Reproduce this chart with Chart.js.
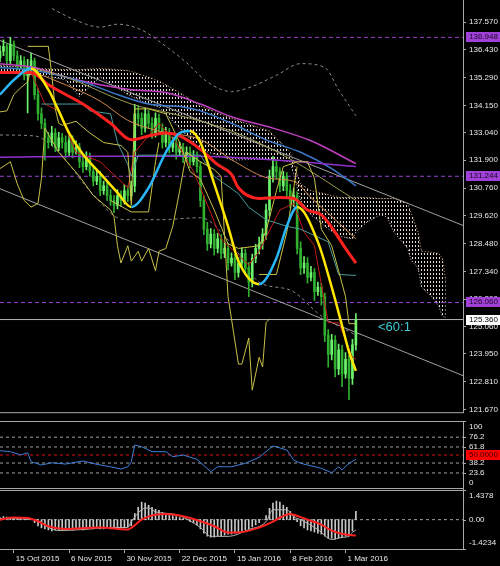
<!DOCTYPE html>
<html>
<head>
<meta charset="utf-8">
<script src="https://cdn.jsdelivr.net/npm/chart.js@4.4.0/dist/chart.umd.min.js"></script>
<style>
  html, body { margin: 0; padding: 0; background: #000; overflow: hidden; }
  #wrap { position: relative; width: 500px; height: 566px; background: #000; }
  #wrap canvas { position: absolute; left: 0; }
</style>
</head>
<body>
<div id="wrap">
  <canvas id="mainChart" width="500" height="421" style="top:0px"></canvas>
  <canvas id="rsiChart" width="500" height="68" style="top:421px"></canvas>
  <canvas id="macdChart" width="500" height="77" style="top:489px"></canvas>
</div>
<script>
// daily candles, bar index 0..103
const opens = [136.10,136.38,136.58,135.99,136.66,136.19,135.79,135.99,135.39,135.71,
  135.99,134.60,133.81,133.42,132.82,132.63,133.02,132.43,132.82,132.63,
  132.23,132.71,132.23,132.43,131.84,131.64,132.03,131.44,131.04,131.24,
  130.65,130.85,130.45,130.25,130.06,130.45,130.25,130.65,130.45,130.85,
  133.81,133.62,133.22,133.81,133.42,133.02,133.62,133.22,132.63,133.02,
  132.43,132.63,132.23,132.43,132.03,132.23,131.84,132.03,131.64,130.25,
  129.07,128.47,128.87,128.28,128.67,128.08,128.28,127.68,127.88,127.29,
  127.68,128.08,127.48,126.89,127.88,128.28,128.47,128.87,129.86,131.24,
  131.64,131.44,130.85,131.24,130.65,130.25,130.45,128.28,127.48,127.68,
  127.09,127.29,126.50,126.69,126.30,124.72,123.93,124.52,123.33,124.12,
  123.13,123.73,122.94,124.32];
const highs = [136.60,136.85,136.70,136.95,136.80,136.40,136.20,136.15,136.05,136.30,
  136.10,134.85,134.05,133.60,133.05,133.30,133.20,133.05,133.00,132.90,
  132.95,132.90,132.70,132.60,132.05,132.25,132.20,131.60,131.50,131.45,
  131.05,131.00,130.70,130.45,130.70,130.65,130.90,130.85,131.05,134.20,
  134.15,133.85,134.05,133.95,133.65,133.85,133.80,133.40,133.25,133.20,
  132.85,132.85,132.65,132.60,132.45,132.45,132.30,132.25,131.85,130.45,
  129.35,129.10,129.05,128.90,128.85,128.50,128.50,128.10,128.05,127.90,
  128.30,128.25,127.70,128.05,128.45,128.75,129.10,130.10,131.50,132.05,
  131.90,131.60,131.45,131.40,130.90,130.75,130.60,128.55,127.95,127.90,
  127.55,127.45,126.90,126.85,126.45,124.95,124.75,124.70,124.35,124.30,
  124.00,123.90,124.55,125.60];
const lows = [135.95,136.20,135.80,135.85,136.00,135.60,135.65,135.20,133.85,135.50,
  134.40,133.55,133.20,131.90,132.40,132.50,132.25,132.30,132.40,132.00,
  132.10,132.00,132.15,131.60,131.40,131.50,131.25,130.85,130.90,130.45,
  130.50,130.25,130.05,129.75,129.90,130.00,130.10,130.20,130.25,130.60,
  133.30,132.95,133.05,133.20,132.80,132.85,133.00,132.40,132.45,132.20,
  132.25,131.95,132.05,131.80,131.85,131.60,131.70,131.40,130.00,128.85,
  128.20,128.30,128.00,128.10,127.85,127.90,127.40,127.55,127.00,127.10,
  127.45,127.20,126.30,126.70,127.70,128.05,128.25,128.65,129.60,131.00,
  131.15,130.60,130.65,130.40,129.95,130.00,128.05,127.20,127.25,126.85,
  126.95,126.15,126.35,125.95,124.45,123.40,123.70,123.00,123.10,122.60,
  122.95,122.07,122.70,124.10];
const closes = [136.38,136.58,135.99,136.66,136.19,135.79,135.99,135.39,135.71,135.99,
  134.60,133.81,133.42,132.82,132.63,133.02,132.43,132.82,132.63,132.23,
  132.71,132.23,132.43,131.84,131.64,132.03,131.44,131.04,131.24,130.65,
  130.85,130.45,130.25,130.06,130.45,130.25,130.65,130.45,130.85,133.81,
  133.62,133.22,133.81,133.42,133.02,133.62,133.22,132.63,133.02,132.43,
  132.63,132.23,132.43,132.03,132.23,131.84,132.03,131.64,130.25,129.07,
  128.47,128.87,128.28,128.67,128.08,128.28,127.68,127.88,127.29,127.68,
  128.08,127.48,126.89,127.88,128.28,128.47,128.87,129.86,131.24,131.64,
  131.44,130.85,131.24,130.65,130.25,130.45,128.28,127.48,127.68,127.09,
  127.29,126.50,126.69,126.30,124.72,123.93,124.52,123.33,124.12,123.13,
  123.73,122.94,124.32,125.36];

// x axis
const dateTicks = [4, 20, 36, 52, 68, 84, 100];
const dateLabels = ['15 Oct 2015', '6 Nov 2015', '30 Nov 2015', '22 Dec 2015', '15 Jan 2016', '8 Feb 2016', '1 Mar 2016'];
const priceTicks = [137.57, 136.43, 135.29, 134.15, 133.04, 131.90, 130.76, 129.62, 128.48, 127.34, 126.20, 125.06, 123.95, 122.81, 121.67];
const levelPrices = [136.948, 131.244, 126.060];
const lastPrice = 125.36;

// moving averages (bar index / price)
const redMaX = [0, 9, 14, 24, 32, 38, 43, 48, 52, 58, 63, 67, 69, 75, 81, 85, 89, 93, 96, 100, 103];
const redMaY = [135.51, 135.51, 135.00, 134.21, 133.42, 132.74, 132.90, 133.02, 132.90, 132.35, 131.72, 131.32, 130.77, 130.33, 130.37, 130.33, 129.86, 129.66, 129.15, 128.28, 127.68];
const fastMaX = [0, 4, 9, 14, 17, 20, 24, 29, 34, 38, 43, 48, 52, 55, 58, 62, 66, 69, 75, 80, 83, 86, 92, 96, 99, 101, 103];
const fastMaY = [134.60, 135.20, 135.67, 134.80, 133.93, 133.02, 132.15, 131.36, 130.57, 129.98, 130.77, 132.23, 133.02, 133.10, 132.63, 130.93, 129.19, 127.76, 126.81, 127.88, 129.19, 129.98, 128.55, 126.69, 125.11, 124.04, 123.25];
const magentaX = [0, 10, 19, 29, 38, 48, 58, 67, 79, 90, 103];
const magentaY = [135.87, 135.71, 135.32, 135.00, 134.80, 134.68, 134.21, 133.69, 133.22, 132.70, 131.76];
const blueX = [0, 10, 24, 34, 43, 53, 58, 67, 77, 87, 96, 103];
const blueY = [135.71, 135.59, 135.12, 134.60, 134.21, 134.09, 133.93, 133.42, 132.74, 132.23, 131.56, 130.85];
const purpleX = [0, 29, 58, 75, 87, 103];
const purpleY = [132.03, 132.07, 132.07, 131.95, 131.84, 131.64];
const orangeX = [10, 19, 29, 37, 46, 58, 68, 78, 85, 90, 97, 103];
const orangeY = [135.51, 135.00, 134.33, 133.54, 133.10, 132.75, 131.84, 131.16, 131.04, 130.37, 129.46, 128.67];
const oliveX = [10, 19, 38, 50, 67, 84, 103];
const oliveY = [135.67, 135.32, 134.21, 133.81, 133.10, 131.95, 130.25];
const tealX = [12, 24, 26, 32, 34, 37, 38, 40, 58, 62, 69, 72, 77, 83, 87, 95, 98, 103];
const tealY = [134.21, 134.21, 133.93, 133.81, 132.63, 131.72, 131.24, 132.11, 132.11, 131.24, 130.53, 129.97, 129.46, 129.19, 129.07, 128.55, 127.21, 127.17];
const darkRedX = [9, 13, 17, 22, 29, 37, 39, 46, 51, 56, 61, 64, 69, 72, 75, 81, 85, 88, 91, 93, 95, 98, 102, 103];
const darkRedY = [135.51, 134.21, 133.93, 132.23, 131.84, 130.77, 132.23, 133.42, 132.63, 131.44, 129.74, 128.67, 128.00, 127.60, 128.16, 129.86, 130.13, 128.95, 128.39, 126.81, 125.23, 125.23, 123.81, 123.73];

// gold bands
const goldUpX = [8, 14, 15, 16, 17, 18, 22, 26, 30, 35, 37, 38, 39, 43, 48, 52, 55, 58, 62, 66, 69, 75, 77, 80, 82, 86, 89, 91, 93, 96, 98, 100, 101, 103];
const goldUpY = [136.58, 136.58, 135.39, 134.01, 133.42, 133.34, 133.50, 133.02, 132.63, 132.51, 132.23, 130.06, 134.01, 134.01, 133.81, 132.63, 131.44, 131.12, 129.86, 128.47, 128.28, 128.39, 128.99, 130.65, 131.64, 131.84, 131.84, 131.16, 129.07, 128.39, 127.36, 126.30, 125.19, 125.19];
const goldLeftX = [0, 2, 4, 6, 8, 9];
const goldLeftY = [133.89, 133.93, 134.60, 134.88, 135.12, 135.67];
const goldLowX = [0, 3, 5, 7, 9, 11, 12, 13, 17, 23, 27, 32, 33, 34, 35, 37, 38, 40, 41, 43, 45, 46, 48, 50, 52, 54, 58, 62, 64, 66, 67, 69, 70, 72, 73, 75, 76, 77, 78];
const goldLowY = [131.56, 131.84, 130.93, 130.25, 129.98, 130.13, 131.16, 133.22, 132.23, 131.24, 130.45, 129.86, 129.58, 128.39, 127.68, 128.39, 127.76, 128.16, 127.76, 128.28, 127.36, 128.16, 128.28, 129.19, 130.65, 132.23, 131.84, 131.52, 131.24, 126.30, 125.38, 123.53, 123.53, 124.60, 122.46, 123.81, 123.41, 125.23, 125.39];
const goldBoxAX = [32, 38, 43, 45, 46];
const goldBoxAY = [130.25, 129.78, 129.78, 131.84, 132.63];
const goldBoxBX = [75, 80, 83, 86];
const goldBoxBY = [127.21, 127.21, 128.95, 131.64];

// grey dashed envelope
const envUpX = [12, 22, 29, 34, 41, 48, 54, 60, 67, 72, 80, 87, 94, 98, 103];
const envUpY = [138.36, 137.65, 137.37, 137.49, 137.25, 136.58, 135.91, 135.12, 134.72, 134.88, 135.39, 135.87, 135.71, 134.80, 133.73];
const envLowX = [0, 10, 17, 26, 36, 46, 58, 67, 75, 84, 93, 103];
const envLowY = [132.94, 132.90, 132.23, 130.65, 129.46, 129.46, 129.54, 128.47, 126.89, 126.57, 125.51, 124.72];

// ichimoku cloud (shifted 26 bars ahead)
const cloudX = [0, 12, 19, 23, 29, 37, 43, 46, 52, 58, 67, 78, 84, 87, 90, 94, 98, 102, 103, 106, 110, 112, 114, 118, 119, 121, 122, 125, 127, 128, 129];
const spanA = [135.79, 135.67, 135.63, 135.63, 135.67, 135.59, 135.32, 135.16, 134.68, 134.13, 133.62, 133.10, 132.23, 130.93, 130.65, 130.53, 130.37, 130.37, 130.37, 130.37, 130.33, 130.33, 130.33, 130.13, 129.74, 128.95, 128.16, 128.12, 128.08, 127.88, 126.97];
const spanB = [135.51, 135.39, 135.20, 134.52, 135.32, 134.60, 134.21, 134.09, 133.22, 132.35, 131.91, 131.95, 131.84, 130.25, 129.66, 129.19, 128.79, 128.67, 128.95, 129.34, 129.66, 129.58, 128.95, 128.28, 127.80, 127.48, 126.69, 126.30, 125.90, 125.51, 125.43];

// trend channel
const chanX = [0, 134];
const chanUpY = [136.82, 129.225];
const chanLowY = [130.73, 123.056];

// RSI
const rsiX = [0, 3, 6, 8, 9, 12, 15, 19, 24, 28, 32, 35, 37, 38, 39, 41, 44, 48, 50, 53, 57, 61, 63, 67, 71, 75, 79, 83, 85, 87, 93, 96, 98, 99, 101, 103];
const rsiY = [56.3, 54.9, 50.0, 53.4, 40.1, 35.3, 38.6, 36.7, 41.2, 36.3, 32.7, 29.4, 32.7, 40.1, 64.7, 62.2, 54.9, 54.9, 47.5, 50.0, 43.7, 25.4, 32.7, 32.7, 37.8, 46.6, 63.3, 57.4, 42.6, 37.8, 30.4, 23.9, 32.7, 27.9, 37.8, 43.7];
const rsiLevels = [76.2, 61.8, 38.2, 23.6];

// MACD
const macdHist = [0.10, 0.15, 0.12, 0.10, 0.05, 0.08, 0.05, 0.02, 0.05, 0.00,
  -0.15, -0.30, -0.40, -0.45, -0.50, -0.55, -0.50, -0.50, -0.50, -0.45,
  -0.45, -0.50, -0.45, -0.45, -0.50, -0.45, -0.40, -0.45, -0.40, -0.45,
  -0.45, -0.40, -0.45, -0.40, -0.40, -0.35, -0.40, -0.35, -0.30, 0.30,
  0.60, 0.85, 0.80, 0.70, 0.60, 0.50, 0.45, 0.35, 0.30, 0.25,
  0.20, 0.15, 0.10, 0.05, 0.00, -0.10, -0.15, -0.25, -0.45, -0.65,
  -0.80, -0.85, -0.85, -0.80, -0.80, -0.75, -0.70, -0.70, -0.65, -0.60,
  -0.55, -0.50, -0.45, -0.35, -0.25, -0.15, 0.00, 0.20, 0.55, 0.80,
  0.90, 0.85, 0.70, 0.60, 0.40, 0.20, -0.10, -0.30, -0.40, -0.50,
  -0.55, -0.60, -0.65, -0.70, -0.80, -0.90, -0.90, -0.95, -0.90, -0.85,
  -0.80, -0.75, -0.55, 0.40];
const signalX = [0, 4, 8, 11, 14, 19, 29, 37, 38, 41, 45, 48, 53, 58, 62, 66, 69, 75, 79, 80, 84, 85, 89, 93, 96, 100, 103];
const signalY = [0, 0.11, 0.08, -0.08, -0.32, -0.45, -0.38, -0.48, -0.40, 0, 0.24, 0.27, 0.16, -0.08, -0.32, -0.62, -0.62, -0.38, -0.10, 0, 0.27, 0.24, 0, -0.24, -0.53, -0.72, -0.77];
const macdLineX = [0, 10, 14, 17, 24, 32, 37, 38, 41, 43, 45, 51, 58, 61, 66, 72, 77, 79, 83, 85, 87, 92, 96, 99, 101, 102, 103];
const macdLineY = [0.05, 0, -0.38, -0.53, -0.48, -0.38, -0.38, -0.10, 0.48, 0.57, 0.38, 0.24, -0.38, -0.81, -0.81, -0.48, -0.10, 0.48, 0.48, 0.14, 0, -0.48, -0.96, -0.86, -0.81, -0.62, -0.50];

const FAMILY = '"Liberation Sans", Arial, sans-serif';
const AXIS = '#a8a8a8';
const X_MAX = 134;

function pts(xs, ys) { return xs.map((x, k) => ({ x: x, y: ys[k] })); }
function flat(v) { return [{ x: 0, y: v }, { x: X_MAX, y: v }]; }

function line(data, color, width, extra) {
  return Object.assign({
    type: 'line', data: data, borderColor: color, borderWidth: width,
    pointRadius: 0, fill: false, tension: 0, order: 50
  }, extra || {});
}

const smooth = { cubicInterpolationMode: 'monotone' };

// draws the frame, right-side labels, price boxes and notes
function framePlugin(cfg) {
  return {
    id: 'frame',
    afterDraw(chart) {
      const ctx = chart.ctx;
      const a = chart.chartArea;
      const ys = chart.scales.y;
      ctx.save();
      ctx.strokeStyle = AXIS;
      ctx.lineWidth = 1;
      ctx.beginPath();
      ctx.moveTo(a.right + 0.5, 0);
      ctx.lineTo(a.right + 0.5, a.bottom);
      if (cfg.top) { ctx.moveTo(0, a.top + 0.5); ctx.lineTo(a.right, a.top + 0.5); }
      if (cfg.bottom) { ctx.moveTo(0, a.bottom - 0.5); ctx.lineTo(a.right, a.bottom - 0.5); }
      ctx.stroke();

      ctx.font = '8px ' + FAMILY;
      ctx.textBaseline = 'middle';
      ctx.textAlign = 'left';
      (cfg.labels || []).forEach(function (l) {
        let y = ys.getPixelForValue(l[0]);
        ctx.strokeStyle = AXIS;
        ctx.beginPath();
        ctx.moveTo(a.right, Math.round(y) + 0.5);
        ctx.lineTo(a.right + 3, Math.round(y) + 0.5);
        ctx.stroke();
        y = Math.min(Math.max(y, a.top + 6), a.bottom - 6);
        ctx.fillStyle = '#e8e8e8';
        ctx.fillText(l[1], a.right + 6, y);
      });

      (cfg.boxes || []).forEach(function (b) {
        const y = Math.round(ys.getPixelForValue(b.value));
        ctx.fillStyle = b.bg;
        ctx.fillRect(a.right + 3, y - 5, 37, 10);
        ctx.fillStyle = b.fg;
        ctx.fillText(b.text, a.right + 6, y);
      });

      if (cfg.note) {
        const xs = chart.scales.x;
        ctx.font = '13px ' + FAMILY;
        ctx.fillStyle = '#3cc8d2';
        ctx.fillText(cfg.note.text, xs.getPixelForValue(cfg.note.x), ys.getPixelForValue(cfg.note.y));
      }
      ctx.restore();
    }
  };
}

const baseOptions = {
  responsive: false,
  animation: false,
  devicePixelRatio: 1,
  events: [],
  layout: { padding: 0 },
  plugins: { legend: { display: false }, tooltip: { enabled: false } }
};

function hiddenX() {
  return { type: 'linear', min: 0, max: X_MAX, offset: false, display: false, grid: { offset: false } };
}

function quietY(min, max) {
  return {
    type: 'linear', position: 'right', min: min, max: max,
    afterFit: function (s) { s.width = 37; },
    ticks: { display: false },
    grid: { display: false },
    border: { display: false }
  };
}

// ---------- main price panel ----------
const mainCanvas = document.getElementById('mainChart');
const mainCtx = mainCanvas.getContext('2d');
const tile = document.createElement('canvas');
tile.width = 3; tile.height = 4;
const tctx = tile.getContext('2d');
tctx.fillStyle = '#e2dcd4';
tctx.fillRect(1, 1, 1, 2);
const cloudPattern = mainCtx.createPattern(tile, 'repeat');

const upColor = '#6cf26c';
const downColor = '#2fb02f';
function candleColor(c) { return closes[c.dataIndex] >= opens[c.dataIndex] ? upColor : downColor; }

new Chart(mainCtx, {
  type: 'bar',
  data: {
    datasets: [
      line(pts(cloudX, spanA), '#d8a878', 1, { fill: '+1', backgroundColor: cloudPattern, borderDash: [1, 2], order: 100 }),
      line(pts(cloudX, spanB), '#d8c0d8', 1, { borderDash: [1, 2], order: 100 }),
      line(pts(chanX, chanUpY), '#a0a0a0', 1, { order: 95 }),
      line(pts(chanX, chanLowY), '#a0a0a0', 1, { order: 95 }),
      line(flat(levelPrices[0]), '#9a40d0', 1, { borderDash: [4, 3], order: 95 }),
      line(flat(levelPrices[1]), '#9a40d0', 1, { borderDash: [4, 3], order: 95 }),
      line(flat(levelPrices[2]), '#9a40d0', 1, { borderDash: [4, 3], order: 95 }),
      line(flat(lastPrice), '#b4b4b4', 1, { order: 95 }),
      line(pts(envUpX, envUpY), '#8a8a8a', 1, Object.assign({ borderDash: [3, 3], order: 94 }, smooth)),
      line(pts(envLowX, envLowY), '#8a8a8a', 1, Object.assign({ borderDash: [3, 3], order: 94 }, smooth)),
      {
        type: 'bar', data: opens.map((o, i) => ({ x: i, y: [lows[i], highs[i]] })),
        backgroundColor: candleColor, barThickness: 1, grouped: false, order: 91
      },
      {
        type: 'bar', data: opens.map((o, i) => ({ x: i, y: [o, closes[i]] })),
        backgroundColor: candleColor, barThickness: 2, grouped: false, minBarLength: 1, order: 90
      },
      line(pts(goldLeftX, goldLeftY), '#c8c048', 1),
      line(pts(goldUpX, goldUpY), '#c8c048', 1),
      line(pts(goldLowX, goldLowY), '#c8c048', 1),
      line(pts(goldBoxAX, goldBoxAY), '#c8c048', 1),
      line(pts(goldBoxBX, goldBoxBY), '#c8c048', 1),
      line(pts(tealX, tealY), '#4a9c9c', 1),
      line(pts(darkRedX, darkRedY), '#c41818', 1),
      line(pts(oliveX, oliveY), '#9a9a50', 1, smooth),
      line(pts(orangeX, orangeY), '#d2874a', 1, smooth),
      line(pts(purpleX, purpleY), '#9130d0', 1.5, smooth),
      line(pts(blueX, blueY), '#3c78c8', 1.5, smooth),
      line(pts(magentaX, magentaY), '#c040c0', 1.5, smooth),
      line(pts(redMaX, redMaY), '#ff2020', 3, Object.assign({ order: 10 }, smooth)),
      line(pts(fastMaX, fastMaY), '#ffe600', 2.5, Object.assign({
        order: 5,
        segment: { borderColor: c => c.p1.parsed.y > c.p0.parsed.y ? '#29b6f6' : '#ffe600' }
      }, smooth))
    ]
  },
  options: Object.assign({}, baseOptions, {
    scales: {
      x: hiddenX(),
      y: {
        type: 'linear', position: 'right', min: 121.513, max: 138.163,
        afterFit: function (s) { s.width = 37; },
        afterBuildTicks: function (s) { s.ticks = priceTicks.map(v => ({ value: v })); },
        ticks: {
          callback: v => v.toFixed(3), color: '#e8e8e8', autoSkip: false,
          font: { family: FAMILY, size: 8 }, padding: 3
        },
        grid: { drawOnChartArea: false, drawTicks: true, tickLength: 3, color: AXIS },
        border: { display: false }
      }
    }
  }),
  plugins: [framePlugin({
    bottom: true,
    boxes: [
      { value: levelPrices[0], text: '136.948', bg: '#a040d8', fg: '#1a0a20' },
      { value: levelPrices[1], text: '131.244', bg: '#a040d8', fg: '#1a0a20' },
      { value: levelPrices[2], text: '126.060', bg: '#a040d8', fg: '#1a0a20' },
      { value: lastPrice, text: '125.360', bg: '#ffffff', fg: '#000000' }
    ],
    note: { x: 109.4, y: 125.03, text: '<60:1' }
  })]
});

// ---------- RSI panel ----------
new Chart(document.getElementById('rsiChart').getContext('2d'), {
  type: 'line',
  data: {
    datasets: [
      line(flat(rsiLevels[0]), '#a0a0a0', 1, { borderDash: [3, 3], order: 90 }),
      line(flat(rsiLevels[1]), '#a0a0a0', 1, { borderDash: [3, 3], order: 90 }),
      line(flat(rsiLevels[2]), '#a0a0a0', 1, { borderDash: [3, 3], order: 90 }),
      line(flat(rsiLevels[3]), '#a0a0a0', 1, { borderDash: [3, 3], order: 90 }),
      line(flat(50), '#e01010', 1, { borderDash: [3, 3], order: 90 }),
      line(pts(rsiX, rsiY), '#3f7fd8', 1, { order: 10 })
    ]
  },
  options: Object.assign({}, baseOptions, {
    scales: { x: hiddenX(), y: quietY(0, 100) }
  }),
  plugins: [framePlugin({
    top: true, bottom: true,
    labels: [[100, '100'], [76.2, '76.2'], [61.8, '61.8'], [38.2, '38.2'], [23.6, '23.6'], [0, '0']],
    boxes: [{ value: 50, text: '50.0000', bg: '#ff0000', fg: '#3a0000' }]
  })]
});

// ---------- MACD panel ----------
new Chart(document.getElementById('macdChart').getContext('2d'), {
  type: 'bar',
  data: {
    datasets: [
      line(flat(0), '#a0a0a0', 1, { borderDash: [3, 3], order: 90 }),
      {
        type: 'bar', data: macdHist.map((v, i) => ({ x: i, y: v })),
        backgroundColor: '#c8c8c8', barThickness: 1, grouped: false, order: 80
      },
      line(pts(macdLineX, macdLineY), '#b4b4b4', 1, Object.assign({ order: 20 }, smooth)),
      line(pts(signalX, signalY), '#ff2020', 2, Object.assign({ order: 10 }, smooth))
    ]
  },
  options: Object.assign({}, baseOptions, {
    layout: { padding: { top: 1 } },
    scales: {
      x: {
        type: 'linear', min: 0, max: X_MAX, offset: false, position: 'bottom',
        afterBuildTicks: function (s) { s.ticks = dateTicks.map(v => ({ value: v })); },
        afterFit: function (s) { s.height = 17; },
        ticks: {
          callback: v => dateLabels[dateTicks.indexOf(v)],
          align: 'start', labelOffset: 2, maxRotation: 0, autoSkip: false,
          color: '#e8e8e8', font: { family: FAMILY, size: 8 }, padding: 1
        },
        grid: { drawOnChartArea: false, tickLength: 4, color: AXIS, offset: false },
        border: { display: true, color: AXIS }
      },
      y: quietY(-1.4234, 1.4378)
    }
  }),
  plugins: [framePlugin({
    top: true,
    labels: [[1.4378, '1.4378'], [0, '0.00'], [-1.4234, '-1.4234']]
  })]
});
</script>
</body>
</html>
